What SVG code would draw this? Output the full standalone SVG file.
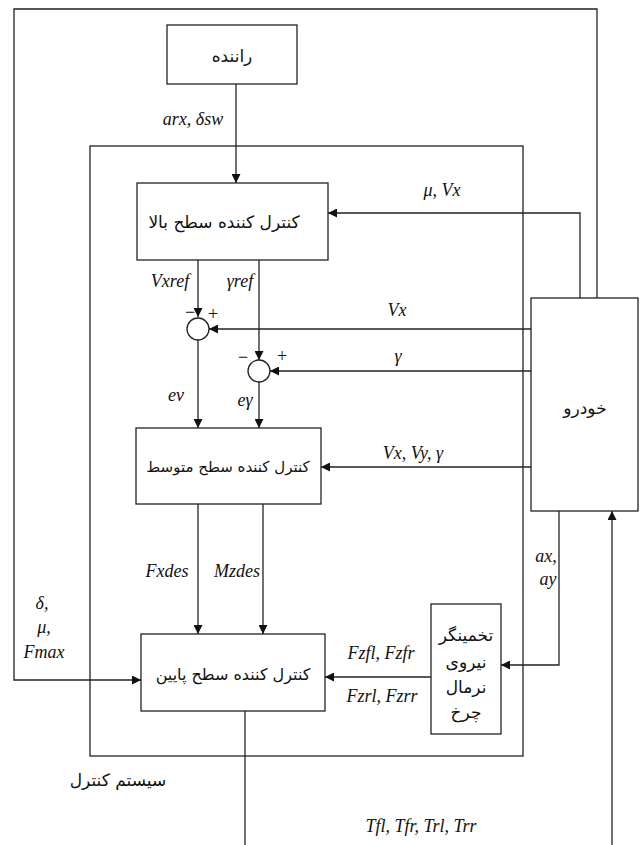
<svg xmlns="http://www.w3.org/2000/svg" width="642" height="845" viewBox="0 0 642 845">
<defs>
<marker id="ah" viewBox="0 0 10 10" refX="10" refY="5" markerWidth="9" markerHeight="9" markerUnits="userSpaceOnUse" orient="auto">
<path d="M0,0 L10,5 L0,10 Z" fill="#111"/>
</marker>
<style>
.box{fill:none;stroke:#222;stroke-width:1.3}
.ln{fill:none;stroke:#222;stroke-width:1.3}
.arr{fill:none;stroke:#222;stroke-width:1.3;marker-end:url(#ah)}
.fa{font-family:"DejaVu Sans","Noto Sans",sans-serif;font-size:17px;fill:#111;text-anchor:middle;direction:rtl}
.lb{font-family:"Liberation Serif","DejaVu Serif",serif;font-style:italic;font-size:18px;fill:#111;text-anchor:middle}
.sg{font-family:"Liberation Serif","DejaVu Serif",serif;font-size:18px;fill:#111;text-anchor:middle}
</style>
</defs>
<rect width="642" height="845" fill="#fff"/>
<g id="connectors">
<path class="arr" d="M597,298 V9 H14 V680 H141"/>
<path class="arr" d="M236,84 V183"/>
<path class="arr" d="M580,298 V213 H328"/>
<path class="arr" d="M198,260 V317"/>
<path class="arr" d="M531,329 H209"/>
<path class="arr" d="M259,260 V360"/>
<path class="arr" d="M531,371 H270"/>
<path class="arr" d="M198,340 V428"/>
<path class="arr" d="M259,382 V428"/>
<path class="arr" d="M531,467 H321"/>
<path class="arr" d="M198,504 V634"/>
<path class="arr" d="M263,504 V634"/>
<path class="arr" d="M431,677 H325"/>
<path class="arr" d="M559,511 V665 H501"/>
<path class="arr" d="M612,845 V511"/>
<path class="ln" d="M245,711 V845"/>
</g>
<g id="control-system">
<rect class="box" x="90" y="146" width="433" height="610"/>
<text class="fa" x="118" y="786">سیستم کنترل</text>
</g>
<g id="driver">
<rect class="box" x="167" y="25" width="130" height="59"/>
<text class="fa" x="232" y="62">راننده</text>
</g>
<g id="upper-controller">
<rect class="box" x="137" y="183" width="191" height="77"/>
<text class="fa" x="224" y="228">کنترل کننده سطح بالا</text>
</g>
<g id="sum1">
<circle class="box" cx="198" cy="329" r="11"/>
<text class="sg" x="190" y="318">−</text>
<text class="sg" x="213" y="320">+</text>
</g>
<g id="sum2">
<circle class="box" cx="259" cy="371" r="11"/>
<text class="sg" x="243" y="363">−</text>
<text class="sg" x="282" y="362">+</text>
</g>
<g id="middle-controller">
<rect class="box" x="136" y="428" width="185" height="76"/>
<text class="fa" x="228" y="472" style="font-size:15px">کنترل کننده سطح متوسط</text>
</g>
<g id="vehicle">
<rect class="box" x="531" y="298" width="107" height="213"/>
<text class="fa" x="585" y="414">خودرو</text>
</g>
<g id="lower-controller">
<rect class="box" x="141" y="634" width="184" height="77"/>
<text class="fa" x="233" y="680" style="font-size:16px">کنترل کننده سطح پایین</text>
</g>
<g id="estimator">
<rect class="box" x="431" y="604" width="70" height="130"/>
<text class="fa" x="466" y="641">تخمینگر</text>
<text class="fa" x="466" y="668">نیروی</text>
<text class="fa" x="466" y="693">نرمال</text>
<text class="fa" x="466" y="718">چرخ</text>
</g>
<g id="labels">
<text class="lb" x="193" y="125">arx, δsw</text>
<text class="lb" x="442" y="196">μ, Vx</text>
<text class="lb" x="170" y="287">Vxref</text>
<text class="lb" x="240" y="287">γref</text>
<text class="lb" x="397" y="316">Vx</text>
<text class="lb" x="398" y="362">γ</text>
<text class="lb" x="176" y="401">ev</text>
<text class="lb" x="245" y="406">eγ</text>
<text class="lb" x="413" y="459">Vx, Vy, γ</text>
<text class="lb" x="167" y="577">Fxdes</text>
<text class="lb" x="237" y="577">Mzdes</text>
<text class="lb" x="546" y="562">ax,</text>
<text class="lb" x="548" y="585">ay</text>
<text class="lb" x="42" y="609">δ,</text>
<text class="lb" x="44" y="633">μ,</text>
<text class="lb" x="44" y="658">Fmax</text>
<text class="lb" x="381" y="659">Fzfl, Fzfr</text>
<text class="lb" x="382" y="702">Fzrl, Fzrr</text>
<text class="lb" x="421" y="832">Tfl, Tfr, Trl, Trr</text>
</g>
</svg>
